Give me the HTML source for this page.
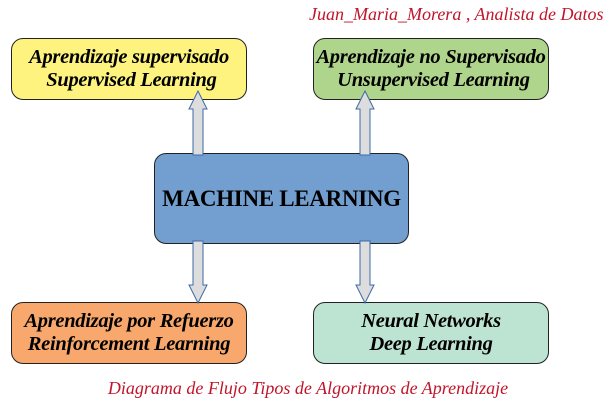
<!DOCTYPE html>
<html><head><meta charset="utf-8"><style>
body{margin:0;width:616px;height:402px;background:#fff;position:relative;overflow:hidden;font-family:"Liberation Serif",serif}
.b{position:absolute;border:1.3px solid #222;border-radius:12px;box-sizing:border-box;display:flex;align-items:center;justify-content:center;text-align:center;font-weight:bold;font-style:italic;font-size:20.5px;line-height:23px;color:#000;white-space:nowrap;letter-spacing:-0.3px}
.t{position:absolute;color:#c0152a;font-style:italic;font-size:18px;white-space:nowrap}
</style></head><body>
<div class="t" style="left:309px;top:4px">Juan_Maria_Morera , Analista de Datos</div>
<div class="b" style="left:11px;top:38px;width:236px;height:62px;background:#fef37f">Aprendizaje supervisado<br>&nbsp;Supervised Learning</div>
<div class="b" style="left:313px;top:38px;width:236px;height:62px;background:#aed58b">Aprendizaje no Supervisado<br>&nbsp;Unsupervised Learning</div>
<div class="b" style="left:154px;top:153px;width:255px;height:91px;background:#729fcf;font-style:normal;font-size:23px">MACHINE LEARNING</div>
<div class="b" style="left:11px;top:302px;width:236px;height:62px;background:#f8a86c">Aprendizaje por Refuerzo<br>Reinforcement Learning</div>
<div class="b" style="left:313px;top:302px;width:236px;height:62px;background:#bde3d2">Neural Networks<br>Deep Learning</div>
<svg width="616" height="402" style="position:absolute;left:0;top:0">
<g fill="#dddddd" stroke="#3c69a8" stroke-width="1">
<path d="M193,155V109H189L198,91L207,109H203V155Z"/>
<path d="M360,155V109H356L365,91L374,109H370V155Z"/>
<path d="M193,241V285H189L198,303L207,285H203V241Z"/>
<path d="M360,241V285H356L365,303L374,285H370V241Z"/>
</g></svg>
<div class="t" style="left:0;width:616px;text-align:center;top:378px;font-size:18px">Diagrama de Flujo Tipos de Algoritmos de Aprendizaje</div>
</body></html>
